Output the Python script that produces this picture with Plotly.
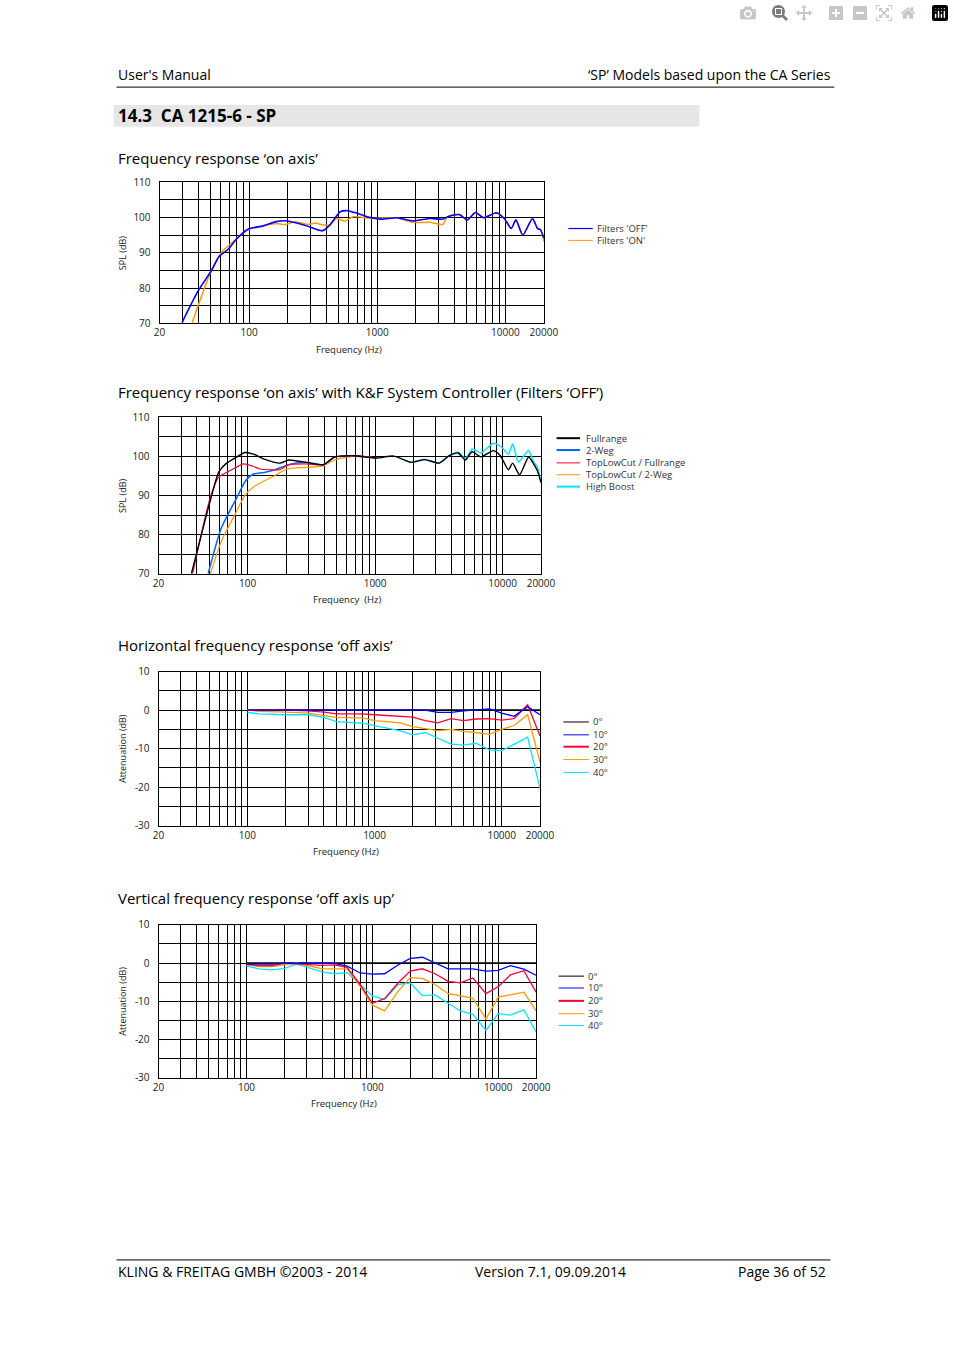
import plotly.graph_objects as go

W, H = 954, 1351
def X(p): return p / W
def Y(p): return 1 - p / H

# ---------- Chart 1 data ----------
c1_off_f = [30, 40, 50.5, 58.5, 67.8, 80.8, 99, 129, 163, 200, 276, 372, 428, 514, 590, 707, 835, 1070, 1420, 1910, 2580, 3240, 3550, 4370, 5040, 5850, 6770, 8530, 9800, 11130, 12100, 13690, 16300, 17800, 18800, 20000]
c1_off_db = [70.3, 79.2, 84.8, 89.0, 90.8, 94.1, 96.7, 97.6, 98.8, 99.0, 97.7, 96.2, 97.9, 101.6, 101.9, 101.1, 100.2, 99.5, 99.9, 99.0, 99.7, 99.5, 100.2, 100.8, 99.3, 101.4, 99.9, 101.3, 99.7, 96.9, 99.3, 95.0, 99.7, 96.9, 96.5, 94.1]
c1_on_f = [36, 50.5, 62, 80.8, 99, 129, 163, 190, 230, 290, 330, 372, 428, 480, 560, 650, 900, 1420, 1910, 2580, 3240, 3550, 4370, 5040, 5850, 6770, 8530, 9800, 11130, 12100, 13690, 16300, 17800, 18800, 20000]
c1_on_db = [70.3, 84.8, 90.4, 94.1, 96.7, 97.6, 98.3, 98.0, 98.8, 98.0, 98.4, 97.9, 97.9, 99.7, 99.0, 100.2, 99.7, 99.9, 98.6, 98.6, 98.0, 100.2, 100.8, 99.3, 101.4, 99.9, 101.3, 99.7, 96.9, 99.3, 95.0, 99.7, 96.9, 96.5, 93.2]

# ---------- Chart 2 data ----------
c2_full_f = [36.2, 50.6, 59.3, 67.3, 81.4, 95.2, 111, 135, 179, 210, 288, 394, 479, 677, 1025, 1400, 1910, 2460, 3170, 3810, 4480, 5100, 5770, 6760, 8500, 9600, 11100, 12000, 13600, 16000, 18700, 20000]
c2_full_db = [70.0, 88.4, 96.0, 98.1, 99.8, 101.0, 100.6, 99.3, 98.3, 99.1, 98.5, 97.9, 99.8, 100.2, 99.6, 100.1, 98.5, 99.2, 98.3, 100.2, 100.9, 99.1, 101.2, 99.9, 101.5, 100.2, 96.6, 98.3, 95.3, 99.8, 96.4, 93.3]
c2_tlcf_f = [37, 50.6, 59.3, 75, 93, 110, 125, 150, 179, 210, 288, 394, 479, 677, 1025]
c2_tlcf_db = [70.0, 89.2, 94.7, 96.6, 98.1, 97.5, 96.8, 96.6, 96.6, 97.9, 98.1, 97.9, 99.8, 100.2, 99.6]
c2_2weg_f = [49, 62, 81.4, 97, 111, 135, 170, 210, 288, 394, 479, 677, 1025]
c2_2weg_db = [70.0, 81.6, 89.2, 93.9, 95.5, 95.9, 96.8, 97.9, 98.5, 97.9, 99.8, 100.2, 99.6]
c2_tlc2_f = [51, 62, 81.4, 95, 111, 138, 165, 205, 288, 394, 479, 677, 1025]
c2_tlc2_db = [70.0, 78.2, 85.8, 90.0, 92.2, 93.9, 95.2, 96.8, 97.2, 97.6, 99.1, 100.0, 99.6]
c2_hb_f = [1700, 1910, 2460, 3170, 3810, 4480, 5100, 5770, 6760, 8500, 9900, 11100, 12000, 13300, 16000, 17500, 18700, 20000]
c2_hb_db = [99.0, 98.5, 99.2, 98.3, 100.2, 101.1, 99.4, 101.9, 100.9, 103.4, 102.3, 100.6, 103.2, 98.6, 101.5, 98.6, 97.4, 93.4]

# ---------- Chart 3 data (horizontal off axis) ----------
c3_f = [100, 125, 200, 300, 400, 500, 800, 1000, 1600, 2000, 2500, 3150, 4000, 5000, 6300, 8000, 10000, 12500, 16000, 20000]
c3_0 = [0] * 20
c3_10 = [0, 0, 0, 0, 0, 0, 0, 0, 0, 0, 0, -0.6, -0.6, -0.2, 0, 0.3, -0.8, -1.6, 0.9, -1.2]
c3_20 = [0, 0, 0, -0.2, -0.5, -1.0, -1.0, -1.2, -1.5, -1.8, -2.7, -3.3, -2.2, -2.7, -2.3, -2.2, -2.6, -2.2, 1.4, -6.7]
c3_30 = [0, -0.3, -0.5, -0.8, -1.4, -1.9, -2.0, -2.7, -3.3, -4.3, -4.8, -5.3, -5.0, -5.5, -5.8, -6.3, -5.0, -4.0, -1.2, -13.5]
c3_40 = [-0.6, -1.0, -1.2, -1.2, -1.9, -3.0, -3.4, -4.1, -5.4, -6.4, -5.8, -7.3, -8.8, -9.1, -8.6, -10.3, -10.5, -8.9, -7.0, -20.3]

# ---------- Chart 4 data (vertical off axis up) ----------
c4_f = [100, 125, 160, 200, 250, 400, 500, 630, 800, 1000, 1250, 1600, 2000, 2500, 3150, 4000, 5000, 6300, 8000, 10000, 12500, 16000, 20000]
c4_0 = [0] * 23
c4_10 = [-0.3, -0.3, -0.3, 0, 0, -0.1, -0.1, -0.8, -2.6, -2.9, -2.8, -0.5, 1.2, 1.5, 0.1, -1.5, -1.5, -1.5, -2.1, -1.9, -0.7, -1.6, -3.2]
c4_20 = [-0.3, -0.7, -0.7, 0, -0.2, -0.6, -0.5, -1.1, -5.6, -10.5, -9.3, -5.2, -2.1, -1.5, -2.8, -4.8, -5.2, -3.9, -8.0, -6.2, -3.1, -2.0, -7.6]
c4_30 = [-0.5, -0.9, -0.9, -0.5, 0, -1.5, -1.5, -1.5, -6.1, -11.0, -12.5, -7.4, -3.8, -4.0, -5.6, -8.0, -8.5, -9.2, -14.6, -8.9, -8.3, -7.6, -12.5]
c4_40 = [-0.8, -1.5, -1.8, -1.4, -0.3, -2.3, -2.8, -2.5, -5.6, -8.6, -9.5, -5.6, -5.2, -8.5, -8.3, -10.5, -12.5, -13.4, -17.6, -13.2, -13.6, -12.2, -18.0]

grid_f = [20, 30, 40, 50, 60, 70, 80, 90, 100, 200, 300, 400, 500, 600, 700, 800, 900,
          1000, 2000, 3000, 4000, 5000, 6000, 7000, 8000, 9000, 10000, 20000]
labeled = {20: "20", 100: "100", 1000: "1000", 10000: "10000", 20000: "20000"}
grid_text = [labeled.get(v, "") for v in grid_f]

FONT = "Open Sans"
fig = go.Figure()

charts = [
    (157, 550, 176, 319, 70, 110, "SPL (dB)", "Frequency (Hz)"),
    (156, 547, 414, 572, 70, 110, "SPL (dB)", "Frequency  (Hz)"),
    (156, 546, 671, 827, -30, 10, "Attenuation (dB)", "Frequency (Hz)"),
    (156, 542, 927, 1082, -30, 10, "Attenuation (dB)", "Frequency (Hz)"),
]
annos, shapes = [], []
for i, (x0, x1, y0, y1, lo, hi, yl, xl) in enumerate(charts, start=1):
    sx = "" if i == 1 else str(i)
    yt = list(range(lo, hi + 1, 5))
    fig.update_layout(**{
        "xaxis" + sx: dict(domain=[X(x0), X(x1)], anchor="y" + sx, type="log",
                           range=[1.30103, 4.30103], tickvals=grid_f, ticktext=grid_text,
                           showgrid=True, gridcolor="black", gridwidth=1, showline=True,
                           linecolor="black", linewidth=1, mirror=True, ticks="",
                           tickfont=dict(size=10, color="#222", family=FONT), zeroline=False),
        "yaxis" + sx: dict(domain=[Y(y1), Y(y0)], anchor="x" + sx, range=[lo, hi],
                           tickvals=yt, ticktext=[str(v) if v % 10 == 0 else "" for v in yt],
                           showgrid=True, gridcolor="black", gridwidth=1, showline=True,
                           linecolor="black", linewidth=1, mirror=True, ticks="",
                           ticklabelstandoff=6,
                           tickfont=dict(size=10, color="#222", family=FONT), zeroline=False),
    })
    annos.append(dict(x=X(119), y=Y((y0 + y1) / 2), xref="paper", yref="paper", text=yl,
                      textangle=-90, showarrow=False, xanchor="center", yanchor="middle",
                      font=dict(size=9, color="#222", family=FONT)))
    annos.append(dict(x=X((x0 + x1) / 2 - 3), y=Y(y1 + 26), xref="paper", yref="paper", text=xl,
                      showarrow=False, xanchor="center", yanchor="middle",
                      font=dict(size=9.5, color="#222", family=FONT)))

def add(xa, f, v, color, w, shape="linear"):
    fig.add_trace(go.Scatter(x=f, y=v, xaxis="x" + xa, yaxis="y" + xa, mode="lines",
                             line=dict(color=color, width=w, shape=shape, smoothing=0.6),
                             showlegend=False, hoverinfo="skip"))

BLUE, ORANGE, RED, CYAN = "#0000ff", "#ff9900", "#ff0033", "#00e5ff"
add("", c1_on_f, c1_on_db, ORANGE, 1.5, "spline")
add("", c1_off_f, c1_off_db, BLUE, 1.6, "spline")
add("2", c2_tlc2_f, c2_tlc2_db, ORANGE, 1.2, "spline")
add("2", c2_2weg_f, c2_2weg_db, "#0066ff", 1.5, "spline")
add("2", c2_tlcf_f, c2_tlcf_db, RED, 1.2, "spline")
add("2", c2_hb_f, c2_hb_db, CYAN, 1.5, "spline")
add("2", c2_full_f, c2_full_db, "black", 1.4, "spline")
for xa, f, s0, s10, s20, s30, s40 in [("3", c3_f, c3_0, c3_10, c3_20, c3_30, c3_40),
                                      ("4", c4_f, c4_0, c4_10, c4_20, c4_30, c4_40)]:
    add(xa, f, s0, "black", 1.8)
    add(xa, f, s40, CYAN, 1.3)
    add(xa, f, s30, ORANGE, 1.3)
    add(xa, f, s20, RED, 1.3)
    add(xa, f, s10, BLUE, 1.3)

def legend(x0, x1, tx, ys, items):
    for yy, (label, color, w) in zip(ys, items):
        shapes.append(dict(type="line", xref="paper", yref="paper", x0=X(x0), x1=X(x1),
                           y0=Y(yy), y1=Y(yy), line=dict(color=color, width=w)))
        annos.append(dict(x=X(tx), y=Y(yy), xref="paper", yref="paper", text=label, xanchor="left",
                          yanchor="middle", showarrow=False,
                          font=dict(size=9.5, color="#333", family=FONT)))

legend(575, 600, 602, [223, 235], [("Filters 'OFF'", BLUE, 1.2), ("Filters 'ON'", ORANGE, 1)])
legend(563, 587, 591, [435, 447, 460, 472, 484],
       [("Fullrange", "black", 2), ("2-Weg", "#0066ff", 2), ("TopLowCut / Fullrange", RED, 1),
        ("TopLowCut / 2-Weg", ORANGE, 1), ("High Boost", CYAN, 2)])
deg = [("0°", "black", 1), ("10°", BLUE, 1), ("20°", RED, 2), ("30°", ORANGE, 1), ("40°", CYAN, 1)]
legend(570, 596, 598, [722, 735, 747, 760, 773], deg)
legend(565, 591, 593, [979, 991, 1004, 1017, 1029], deg)

shapes.append(dict(type="line", xref="paper", yref="paper", x0=X(113), x1=X(847), y0=Y(80), y1=Y(80),
                   line=dict(color="black", width=1)))
shapes.append(dict(type="rect", xref="paper", yref="paper", x0=X(110), x1=X(709), y0=Y(120), y1=Y(98),
                   fillcolor="#e6e6e6", line=dict(width=0), layer="below"))
shapes.append(dict(type="line", xref="paper", yref="paper", x0=X(113), x1=X(843), y0=Y(1266), y1=Y(1266),
                   line=dict(color="black", width=1)))

def txt(x, y, s, size, anchor="left", bold=False):
    annos.append(dict(x=X(x), y=Y(y), xref="paper", yref="paper", text=f"<b>{s}</b>" if bold else s,
                      xanchor=anchor, yanchor="middle", showarrow=False,
                      font=dict(size=size, color="black", family=FONT)))

txt(112, 67, "User's Manual", 14)
txt(846, 67, "‘SP’ Models based upon the CA Series", 14, "right")
txt(112, 109, "14.3  CA 1215-6 - SP", 17, bold=True)
txt(112, 152, "Frequency response ‘on axis’", 15)
txt(112, 388, "Frequency response ‘on axis’ with K&F System Controller (Filters ‘OFF’)", 15)
txt(112, 644, "Horizontal frequency response ‘off axis’", 15)
txt(112, 900, "Vertical frequency response ‘off axis up’", 15)
txt(112, 1278, "KLING & FREITAG GMBH ©2003 - 2014", 14)
txt(557, 1278, "Version 7.1, 09.09.2014", 14, "center")
txt(841, 1278, "Page 36 of 52", 14, "right")

fig.update_layout(width=W, height=H, margin=dict(l=0, r=0, t=0, b=0), paper_bgcolor="white",
                  plot_bgcolor="white", annotations=annos, shapes=shapes, showlegend=False,
                  font=dict(family=FONT))
fig.write_html("out.html",
               post_script="document.body.style.margin='0';document.body.style.overflow='hidden';")
